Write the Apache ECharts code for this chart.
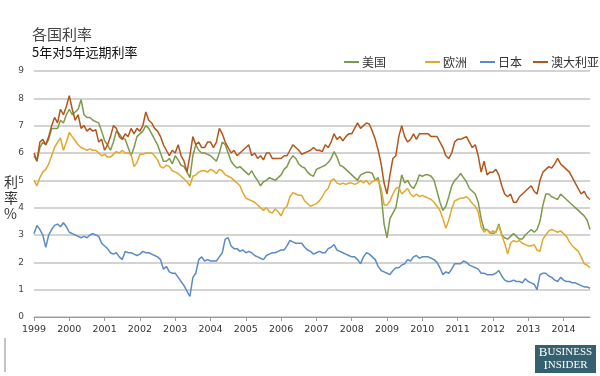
<!DOCTYPE html>
<html>
<head>
<meta charset="utf-8">
<script src="https://cdn.jsdelivr.net/npm/echarts@6/dist/echarts.min.js"></script>
<style>
  html, body { margin: 0; padding: 0; background: #fff; }
  #chart { width: 600px; height: 376px; }
</style>
</head>
<body>
<div id="chart"></div>
<script>
// monthly 5y5y forward rates, Jan 1999 - Oct 2014 (one row per year)
const seriesNames = ["美国", "欧洲", "日本", "澳大利亚"];

const usRates = [
  5.9, 5.7, 6.2, 6.4, 6.3, 6.5, 6.9, 6.9, 6.9, 7.2, 7.1, 7.4,
  7.6, 7.4, 7.5, 7.6, 7.95, 7.4, 7.3, 7.3, 7.2, 7.15, 7.1, 6.8,
  6.45, 6.3, 6.1, 6.4, 6.8, 6.7, 6.55, 6.5, 6.2, 5.9, 6.2, 6.6,
  6.7, 6.8, 7.0, 6.9, 6.7, 6.5, 6.3, 6.0, 5.7, 5.7, 5.8, 5.6,
  5.9, 5.75, 5.55, 5.5, 5.3, 5.1, 5.9, 6.3, 6.1, 6.0, 6.0, 5.95,
  5.9, 5.8, 5.7, 6.0, 6.4, 6.3, 6.0, 5.7, 5.55, 5.45, 5.5, 5.4,
  5.3, 5.2, 5.35, 5.15, 5.0, 4.8, 4.95, 5.0, 5.1, 5.05, 5.0, 5.1,
  5.2, 5.4, 5.5, 5.75, 5.9, 5.8, 5.6, 5.5, 5.45, 5.3, 5.2, 5.15,
  5.4, 5.45, 5.5, 5.55, 5.65, 5.8, 6.05, 5.85, 5.55, 5.5, 5.4, 5.3,
  5.2, 5.1, 5.0, 5.2, 5.25, 5.3, 5.3, 5.25, 5.0, 5.1, 4.5, 3.4,
  2.9, 3.6, 3.8, 4.0, 4.6, 5.2, 4.9, 5.0, 4.8, 4.7, 4.9, 5.2,
  5.15, 5.2, 5.2, 5.15, 5.0, 4.6, 4.2, 3.9, 4.05, 4.4, 4.8, 5.0,
  5.1, 5.25, 5.1, 4.95, 4.7, 4.6, 4.5, 4.2, 3.6, 3.2, 3.2, 3.1,
  3.05, 3.1, 3.4, 3.0, 2.9, 2.85, 2.95, 3.05, 2.95, 2.85, 2.85, 3.0,
  3.1, 3.2, 3.1, 3.2, 3.5, 4.1, 4.5, 4.5, 4.4, 4.35, 4.3, 4.5,
  4.4, 4.3, 4.2, 4.1, 4.0, 3.9, 3.8, 3.7, 3.55, 3.2
];

const euRates = [
  5.0, 4.8, 5.1, 5.3, 5.4, 5.6, 5.9, 6.2, 6.4, 6.55, 6.1, 6.4,
  6.75, 6.6, 6.45, 6.3, 6.2, 6.15, 6.1, 6.15, 6.1, 6.1, 6.0, 5.9,
  5.95, 5.85, 5.85, 5.95, 6.05, 6.0, 6.1, 6.0, 6.0, 5.95, 5.5, 5.65,
  5.95, 5.95, 6.0, 6.0, 6.0, 5.9, 5.75, 5.5, 5.45, 5.55, 5.5, 5.35,
  5.3, 5.25, 5.15, 5.05, 4.95, 4.8, 5.15, 5.2, 5.3, 5.35, 5.35, 5.3,
  5.4, 5.35, 5.25, 5.4, 5.35, 5.2, 5.15, 5.1, 5.0, 4.9, 4.8, 4.55,
  4.35, 4.3, 4.25, 4.2, 4.1, 4.0, 3.9, 4.0, 3.85, 3.8, 3.95, 3.85,
  3.7, 3.95, 4.05, 4.4, 4.55, 4.5, 4.45, 4.45, 4.25, 4.15, 4.05, 4.1,
  4.15, 4.25, 4.4, 4.6, 4.7, 5.0, 5.05, 4.9, 4.85, 4.9, 4.85, 4.9,
  4.9, 4.85, 4.9, 5.0, 4.9, 5.0, 4.85, 4.95, 5.0, 5.0, 4.7, 4.1,
  4.1, 4.25, 4.5, 4.7, 4.75, 4.5, 4.6, 4.7, 4.5, 4.4, 4.5, 4.4,
  4.45, 4.4, 4.35, 4.3, 4.2, 4.05, 3.9, 3.6, 3.25, 3.55, 3.95, 4.25,
  4.3, 4.35, 4.35, 4.4, 4.3, 4.15, 4.05, 3.85, 3.3, 3.1, 3.2, 3.05,
  3.15, 3.1, 3.35, 3.0, 2.7, 2.3, 2.7, 2.8, 2.75, 2.8, 2.7, 2.65,
  2.6, 2.6, 2.65, 2.45, 2.4, 2.85, 3.0, 3.15, 3.2, 3.15, 3.1, 3.15,
  3.05, 2.95, 2.75, 2.6, 2.5, 2.4, 2.2, 1.95, 1.9, 1.8
];

const jpRates = [
  3.05, 3.35, 3.2, 3.0, 2.55, 3.0, 3.2, 3.35, 3.4, 3.3, 3.45, 3.3,
  3.1, 3.05, 3.0, 2.95, 2.9, 2.95, 2.9, 3.0, 3.05, 3.0, 2.95, 2.7,
  2.6, 2.5, 2.35, 2.3, 2.35, 2.2, 2.1, 2.4, 2.35, 2.35, 2.3, 2.25,
  2.3, 2.4, 2.35, 2.35, 2.3, 2.25, 2.2, 2.1, 1.75, 1.85, 1.65, 1.6,
  1.6, 1.45, 1.3, 1.15, 0.95, 0.75, 1.45, 1.6, 2.1, 2.2, 2.05, 2.1,
  2.05, 2.05, 2.05, 2.2, 2.35, 2.85, 2.9, 2.6, 2.5, 2.5, 2.4, 2.45,
  2.35, 2.4, 2.35, 2.25, 2.2, 2.15, 2.1, 2.25, 2.3, 2.35, 2.35, 2.4,
  2.45, 2.45, 2.6, 2.8, 2.75, 2.7, 2.7, 2.7, 2.55, 2.45, 2.4, 2.3,
  2.35, 2.4, 2.35, 2.35, 2.5, 2.55, 2.65, 2.45, 2.4, 2.35, 2.3, 2.25,
  2.2, 2.2, 2.1, 1.95, 2.2, 2.35, 2.3, 2.2, 2.1, 1.85, 1.7, 1.65,
  1.6, 1.55, 1.7, 1.8, 1.8, 1.9, 1.95, 2.1, 2.05, 2.2, 2.25, 2.15,
  2.2, 2.2, 2.2, 2.15, 2.1, 2.0, 1.8, 1.55, 1.65, 1.6, 1.75, 1.95,
  1.95, 1.95, 2.05, 2.0, 1.9, 1.85, 1.8, 1.75, 1.6, 1.6, 1.55, 1.55,
  1.55, 1.6, 1.7, 1.5, 1.35, 1.3, 1.3, 1.35, 1.3, 1.3, 1.25, 1.4,
  1.3, 1.25, 1.2, 1.0, 1.55, 1.6, 1.6, 1.5, 1.45, 1.35, 1.3, 1.45,
  1.35, 1.3, 1.3, 1.25, 1.25, 1.2, 1.15, 1.1, 1.1, 1.05
];

const auRates = [
  6.0, 5.7, 6.4, 6.5, 6.3, 6.6, 7.0, 7.3, 7.1, 7.6, 7.4, 7.7,
  8.1, 7.6, 7.2, 7.4, 6.9, 7.0, 6.8, 6.9, 6.8, 6.85, 6.4, 6.5,
  6.1, 6.3, 6.6, 7.0, 6.9, 6.6, 6.5, 6.7, 6.6, 6.9, 6.7, 6.9,
  6.8, 7.0, 7.5, 7.2, 7.1, 6.9, 6.8, 6.6, 6.3, 6.1, 5.9, 6.1,
  6.0, 6.3, 5.9, 5.7, 5.3, 5.9, 6.6, 6.3, 6.4, 6.2, 6.2, 6.4,
  6.4, 6.2, 6.4, 6.9, 6.7, 6.4, 6.2, 6.0, 6.1, 5.9, 6.0, 6.1,
  6.2, 6.3, 5.9, 6.0, 5.8, 5.9, 5.75, 6.0, 6.0, 5.8, 5.8, 5.8,
  5.8, 5.9, 5.9, 6.1, 6.3, 6.2, 6.1, 5.95, 6.0, 6.05, 6.1, 6.2,
  6.1, 6.1, 6.05, 6.3, 6.2, 6.4, 6.7, 6.5, 6.6, 6.45, 6.6, 6.7,
  6.7, 6.9, 7.1, 6.9, 7.0, 7.1, 7.05, 6.8, 6.5, 6.1, 5.6, 4.9,
  4.5, 5.2, 5.8, 5.9, 6.6, 7.0, 6.6, 6.4, 6.5, 6.7, 6.5, 6.7,
  6.7, 6.7, 6.7, 6.6, 6.6, 6.6, 6.4, 6.2, 5.9, 5.8, 6.0, 6.4,
  6.5, 6.5, 6.55, 6.6, 6.4, 6.2, 6.3, 5.9, 5.3, 5.7, 5.2, 5.3,
  5.3, 5.4, 5.2, 4.8, 4.5, 4.4, 4.5, 4.2, 4.2, 4.4, 4.5, 4.6,
  4.7, 4.8, 4.6, 4.5, 5.0, 5.3, 5.4, 5.5, 5.45, 5.6, 5.8, 5.6,
  5.5, 5.4, 5.3, 5.1, 4.9, 4.7, 4.5, 4.6, 4.4, 4.3
];

const yearLabels = ["1999", "2000", "2001", "2002", "2003", "2004", "2005", "2006",
  "2007", "2008", "2009", "2010", "2011", "2012", "2013", "2014"];

const colors = ["#7d9a4c", "#e2a82c", "#5a8bc4", "#b4561c"];
const legendLeft = [344, 425, 480, 533];

// month categories, e.g. "1999-01"
const months = [];
yearLabels.forEach((y) => {
  for (let m = 1; m <= 12; m++) {
    if (months.length < usRates.length) months.push(y + "-" + (m < 10 ? "0" + m : m));
  }
});

const chart = echarts.init(document.getElementById("chart"));

const lineSeries = (name, data, color) => ({
  name: name,
  type: "line",
  data: data,
  symbol: "none",
  lineStyle: { color: color, width: 1.5 },
  itemStyle: { color: color },
});

// one legend per item so the uneven spacing of the original can be kept
const legends = seriesNames.map((name, i) => ({
  data: [name],
  left: legendLeft[i],
  top: 56,
  padding: 0,
  icon: "rect",
  itemWidth: 15,
  itemHeight: 2,
  itemGap: 0,
  textStyle: { fontSize: 12, color: "#333", fontFamily: "Noto Sans CJK SC", padding: [0, 0, 0, -2] },
}));

const option = {
  animation: false,
  title: {
    text: "各国利率",
    subtext: "5年对5年远期利率",
    left: 27,
    top: 22,
    itemGap: 4,
    textStyle: { fontSize: 15, fontWeight: "normal", color: "#444", fontFamily: "Noto Sans CJK SC" },
    subtextStyle: { fontSize: 13, color: "#111", fontFamily: "Noto Sans CJK SC" },
  },
  legend: legends,
  grid: { left: 34, right: 10, top: 71, bottom: 59 },
  xAxis: {
    type: "category",
    data: months,
    boundaryGap: false,
    axisLine: { lineStyle: { color: "#9a9a9a", width: 1 } },
    axisTick: { length: 4, interval: (i) => i % 12 === 0, lineStyle: { color: "#9a9a9a" } },
    axisLabel: {
      interval: (i) => i % 12 === 0,
      formatter: (v) => v.slice(0, 4),
      fontSize: 9.5,
      color: "#333",
      margin: 8,
      fontFamily: "DejaVu Sans",
    },
    splitLine: { show: false },
  },
  yAxis: {
    type: "value",
    min: 0,
    max: 9,
    interval: 1,
    axisLine: { show: false },
    axisTick: { show: false },
    axisLabel: { fontSize: 9, color: "#444", margin: 10, fontFamily: "DejaVu Sans" },
    splitLine: { lineStyle: { color: "#c4c4c4", width: 1.5 } },
  },
  graphic: [
    {
      type: "text",
      left: 4,
      top: 174,
      style: { text: "利\n率\n%", fontSize: 14, lineHeight: 16, fill: "#333", fontFamily: "Noto Sans CJK SC", align: "center" },
    },
    {
      type: "line",
      shape: { x1: 5, y1: 338, x2: 5, y2: 372 },
      style: { stroke: "#888", lineWidth: 1 },
    },
    {
      type: "group",
      left: 535,
      top: 345,
      children: [
        { type: "rect", shape: { x: 0, y: 0, width: 61, height: 28 }, style: { fill: "#34606f" } },
        {
          type: "text",
          x: 30.5,
          y: 1,
          style: {
            text: "{a|B}{b|USINESS}\n{a|I}{b|NSIDER}",
            align: "center",
            fill: "#fff",
            lineHeight: 13,
            rich: {
              a: { fontSize: 13, fontFamily: "Liberation Serif", fill: "#fff", lineHeight: 13 },
              b: { fontSize: 11, fontFamily: "Liberation Serif", fill: "#fff", lineHeight: 13 },
            },
          },
        },
      ],
    },
  ],
  series: [
    lineSeries(seriesNames[0], usRates, colors[0]),
    lineSeries(seriesNames[1], euRates, colors[1]),
    lineSeries(seriesNames[2], jpRates, colors[2]),
    lineSeries(seriesNames[3], auRates, colors[3]),
  ],
};

chart.setOption(option);
</script>
</body>
</html>
